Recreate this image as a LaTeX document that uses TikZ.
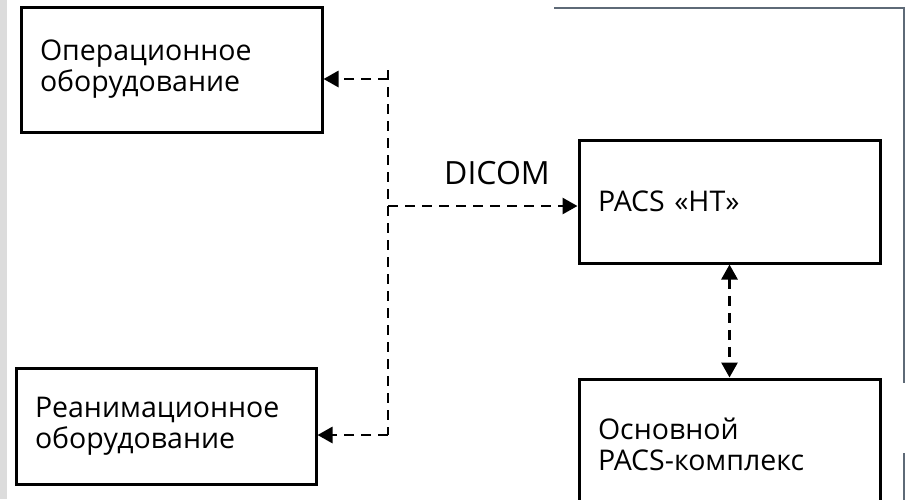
\documentclass[tikz,border=0pt]{standalone}
\usepackage{fontspec}
\setmainfont{Open Sans}
\usetikzlibrary{positioning,arrows.meta}
\definecolor{framegray}{HTML}{5E6A77}
\definecolor{bargray}{HTML}{DCDCDC}

\tikzset{
    block/.style={draw, line width=3pt, text width=263pt, inner xsep=19pt, inner ysep=0pt, align=left, font=\fontsize{28.5}{31}\selectfont},
    link/.style={line width=2.8pt, dash pattern=on 10pt off 7pt, -{Triangle[length=15pt,width=16pt]}},
    twoway/.style={link, {Triangle[length=15pt,width=16pt]}-{Triangle[length=15pt,width=16pt]}}
}

\begin{document}
\begin{tikzpicture}[x=1pt, y=-1pt]
    \useasboundingbox (0,0) rectangle (912,499);
    \clip (0,0) rectangle (912,499);

    % Background bar and frame
    \fill [bargray] (0,0) rectangle (7,499);
    \draw [framegray, line width=2.4pt] (554,8) -- (904,8) -- (904,383);
    \draw [framegray, line width=2.4pt] (904,453) -- (904,505);

    % Equipment
    \node [block, minimum height=125pt] (oper) at (171.5,69.5) {Операционное\\оборудование};
    \node [block, minimum height=116pt, text width=262pt] (reanim) at (166,426) {Реанимационное\\оборудование};

    % PACS
    \node [block, minimum height=123pt] (pacs) at (729.5,201.5) {PACS «НТ»};
    \node [block, minimum height=131pt] (core) at (729.5,444.5) {Основной\\PACS-комплекс};

    % DICOM bus
    \coordinate (bustop) at (388,70);
    \coordinate (busop) at (388,79);
    \coordinate (busmid) at (388,206);
    \coordinate (busbot) at (388,435);
    \draw [line width=2.8pt, dash pattern=on 10pt off 7pt] (bustop) -- (busbot);
    \draw [link] (busop) -- (busop -| oper.east);
    \draw [link] (busbot) -- (busbot -| reanim.east);
    \draw [link] (busmid) -- (busmid -| pacs.west);
    \node [font=\fontsize{32}{32}\selectfont] (dicom) at (497,173) {DICOM};

    % PACS link
    \draw [twoway] (pacs.south) -- (core.north);

\end{tikzpicture}
\end{document}
